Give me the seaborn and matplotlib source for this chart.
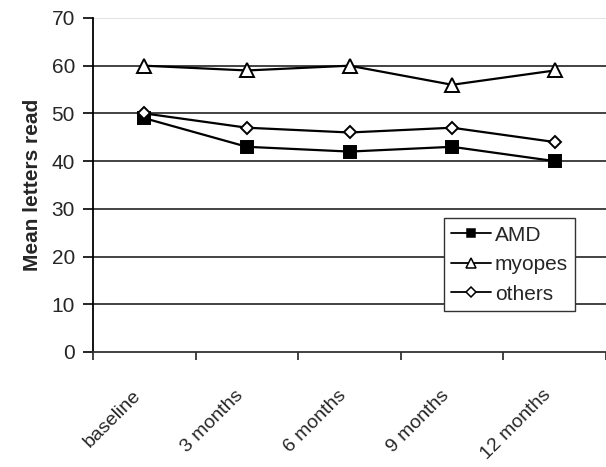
import matplotlib
matplotlib.use("Agg")
import matplotlib.pyplot as plt
import matplotlib.transforms as mtransforms
import pandas as pd
import seaborn as sns

# values
timepoints = ["baseline", "3 months", "6 months", "9 months", "12 months"]
amd = [49, 43, 42, 43, 40]
myopes = [60, 59, 60, 56, 59]
others = [50, 47, 46, 47, 44]
y_ticks = [0, 10, 20, 30, 40, 50, 60, 70]

df = pd.DataFrame({
    "time": timepoints * 3,
    "letters": amd + myopes + others,
    "group": ["AMD"] * 5 + ["myopes"] * 5 + ["others"] * 5,
})

sns.set_style("white")
plt.rcParams["font.family"] = ["Liberation Sans", "DejaVu Sans"]

fig = plt.figure(figsize=(6.06, 4.67), dpi=100)
ax = fig.add_axes([0.1535, 0.2463, 0.8465, 0.7152])

styles = {
    "AMD": dict(marker="s", markerfacecolor="black", markersize=8.5),
    "myopes": dict(marker="^", markerfacecolor="white", markersize=10),
    "others": dict(marker="D", markerfacecolor="white", markersize=6.5),
}
for name, st in styles.items():
    sub = df[df["group"] == name]
    sns.lineplot(data=sub, x="time", y="letters", ax=ax, color="black",
                 linewidth=1.6, markeredgecolor="black", markeredgewidth=1.4,
                 label=name, sort=False, **st)

ax.set_xlim(-0.5, 4.5)
ax.set_ylim(0, 70)
ax.set_yticks(y_ticks)
ax.set_xticks(range(len(timepoints)))
ax.set_xticks([i - 0.5 for i in range(len(timepoints) + 1)], minor=True)
ax.set_xticklabels(timepoints, rotation=45, ha="right", rotation_mode="anchor", fontsize=14)
ax.tick_params(axis="x", which="major", length=0, pad=25)
ax.tick_params(axis="x", which="minor", length=6, width=1.2, color="#222222", direction="out", bottom=True)
ax.tick_params(axis="y", length=7, width=1.2, color="black", direction="out", left=True, labelsize=15, pad=6)

# shift rotated labels a little to the left, as in the reference
shift = mtransforms.ScaledTranslation(-0.12, 0, fig.dpi_scale_trans)
for lbl in ax.get_xticklabels():
    lbl.set_transform(lbl.get_transform() + shift)

ax.yaxis.grid(True, color="#222222", linewidth=1.2)
ax.get_ygridlines()[-1].set_color("#dddddd")
ax.get_ygridlines()[0].set_visible(False)
ax.set_axisbelow(True)

for side in ["top", "right"]:
    ax.spines[side].set_visible(False)
ax.spines["left"].set_color("black")
ax.spines["left"].set_linewidth(1.3)
ax.spines["bottom"].set_color("#333333")
ax.spines["bottom"].set_linewidth(1.3)

ax.set_xlabel("")
ax.set_ylabel("Mean letters read", fontsize=15, fontweight="bold", labelpad=7)

leg = ax.legend(loc="upper left", bbox_to_anchor=(0.684, 0.40), frameon=True,
                fancybox=False, edgecolor="#333333", fontsize=15, handlelength=1.9,
                handletextpad=0.2, borderpad=0.35, labelspacing=0.5, borderaxespad=0,
                framealpha=1)
leg.get_frame().set_linewidth(1.0)
for h, ms in zip(leg.legend_handles, [6, 6.5, 5]):
    h.set_markersize(ms)
    h.set_markeredgewidth(1.1)
    h.set_linewidth(1.3)

fig.savefig("out.png", dpi=100)
